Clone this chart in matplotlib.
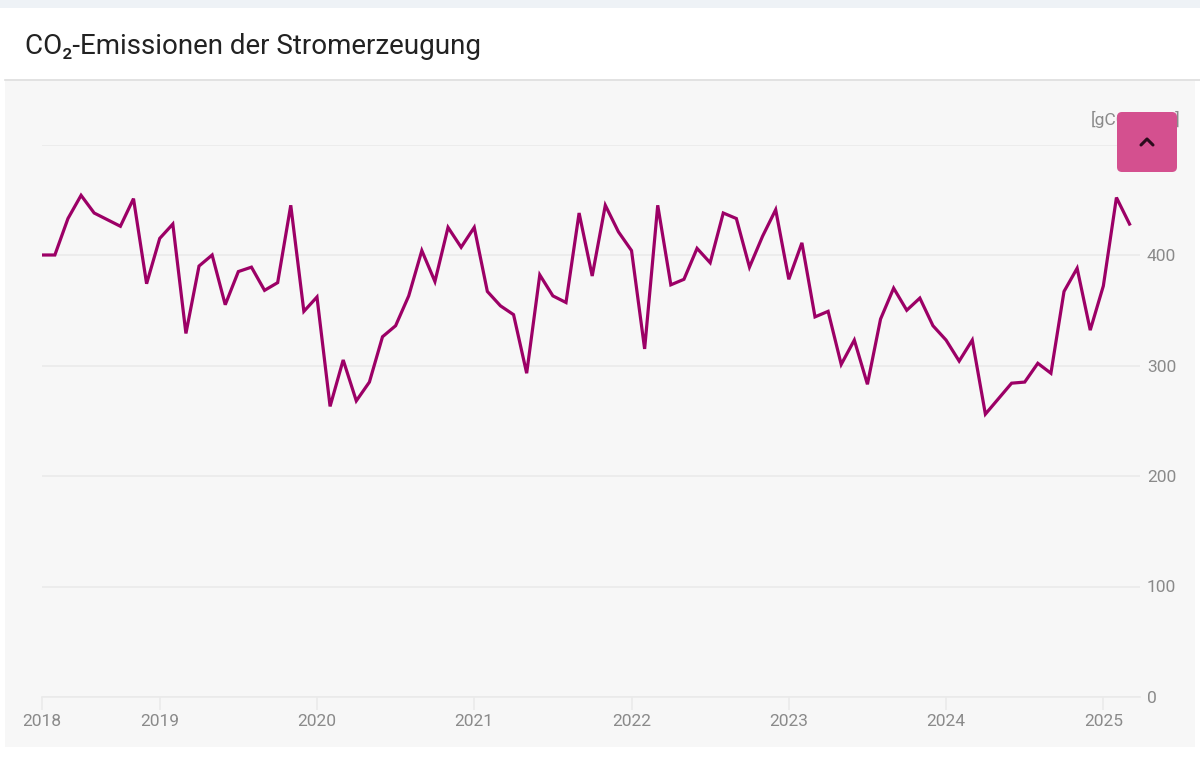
import matplotlib
matplotlib.use("Agg")
import matplotlib.pyplot as plt
from matplotlib.patches import Rectangle, FancyBboxPatch
from matplotlib.lines import Line2D
import numpy as np
import pandas as pd

# monatliche CO2-Intensität der Stromerzeugung, Apr 2018 - Mär 2025
months = pd.period_range("2018-04", "2025-03", freq="M")
co2 = [400, 400, 433, 454, 438, 432, 426, 451, 374, 415, 428, 329,
       390, 400, 355, 385, 389, 368, 375, 445, 349, 362, 263, 305,
       268, 285, 326, 336, 363, 404, 376, 425, 407, 425, 367, 354,
       346, 293, 382, 363, 357, 438, 381, 445, 421, 404, 315, 445,
       373, 378, 406, 393, 438, 433, 389, 417, 441, 378, 411, 344,
       349, 301, 323, 283, 342, 370, 350, 361, 336, 323, 304, 323,
       256, 270, 284, 285, 302, 293, 367, 388, 332, 372, 452, 428]
y_ticks = [0, 100, 200, 300, 400, 500]
title = "CO\u2082-Emissionen der Stromerzeugung"
unit = "[gCO\u2082/kWh]"

LINE = "#9c0066"
GRID = "#eaeaea"
TXT = "#8a8a8a"

plt.rcParams['font.family'] = ['Roboto', 'DejaVu Sans']

W, H = 1200, 780
fig = plt.figure(figsize=(W / 100, H / 100), dpi=100)
fig.patch.set_facecolor("white")

def px(x, y):
    # Pixel (von oben links) -> Figure-Koordinaten
    return x / W, 1 - y / H

# Hintergrund-Elemente
fig.add_artist(Rectangle((0, 1 - 8 / H), 1, 8 / H, transform=fig.transFigure,
                         facecolor="#eef2f6", edgecolor="none", zorder=-5))
fig.add_artist(Rectangle(px(5, 747), 1190 / W, 666 / H, transform=fig.transFigure,
                         facecolor="#f7f7f7", edgecolor="none", zorder=-5))
fig.add_artist(Line2D([5 / W, 1], [1 - 80 / H] * 2, transform=fig.transFigure,
                      color="#dddddd", lw=1.2, zorder=-4))

fig.text(*px(25, 47), title, fontsize=20, fontweight="normal", color="#222222",
         va="center", ha="left")

# Achse
x0, x1 = 41.75, 1140
ytop, ybot = 144.5, 697
step = 13.106
ax = fig.add_axes([x0 / W, 1 - ybot / H, (x1 - x0) / W, (ybot - ytop) / H])
ax.set_facecolor("none")
x = np.arange(len(co2))
ax.plot(x, co2, color=LINE, lw=2.3, solid_joinstyle="miter", zorder=3)
ax.set_xlim(0, (x1 - x0) / step)
ax.set_ylim(0, 500)

# Jahres-Ticks: erster Monat und jeweils Januar
xt = [0] + [i for i, m in enumerate(months) if m.month == 1]
xl = [str(months[i].year) for i in xt]
ax.set_xticks(xt)
ax.set_xticklabels(xl)
ax.set_yticks(y_ticks)
ax.yaxis.tick_right()
ax.tick_params(axis="y", length=0, pad=5, labelsize=12.5, labelcolor=TXT)
ax.tick_params(axis="x", length=9, width=1.2, color=GRID, pad=3, labelsize=12.5, labelcolor=TXT)
for lab in ax.get_yticklabels():
    lab.set_horizontalalignment("left")
ax.grid(axis="y", color=GRID, lw=1.2)
ax.grid(axis="x", visible=False)
for s in ["top", "right", "left"]:
    ax.spines[s].set_visible(False)
ax.spines["bottom"].set_color(GRID)
ax.spines["bottom"].set_linewidth(1.2)

fig.text(*px(1091, 119), unit, fontsize=12.5, color=TXT, va="center", ha="left")

# "nach oben"-Button
btn = FancyBboxPatch((1117 / 100, (H - 172) / 100), 60 / 100, 60 / 100,
                     boxstyle="round,pad=0,rounding_size=0.05",
                     transform=fig.dpi_scale_trans, facecolor="#d4508f",
                     edgecolor="none", zorder=10)
fig.add_artist(btn)
fig.add_artist(Line2D([1141 / W, 1147 / W, 1153 / W],
                      [1 - 145 / H, 1 - 139 / H, 1 - 145 / H],
                      transform=fig.transFigure, color="#2a0c1c", lw=2.2,
                      solid_capstyle="round", zorder=11))

fig.savefig("out.png", dpi=100)
